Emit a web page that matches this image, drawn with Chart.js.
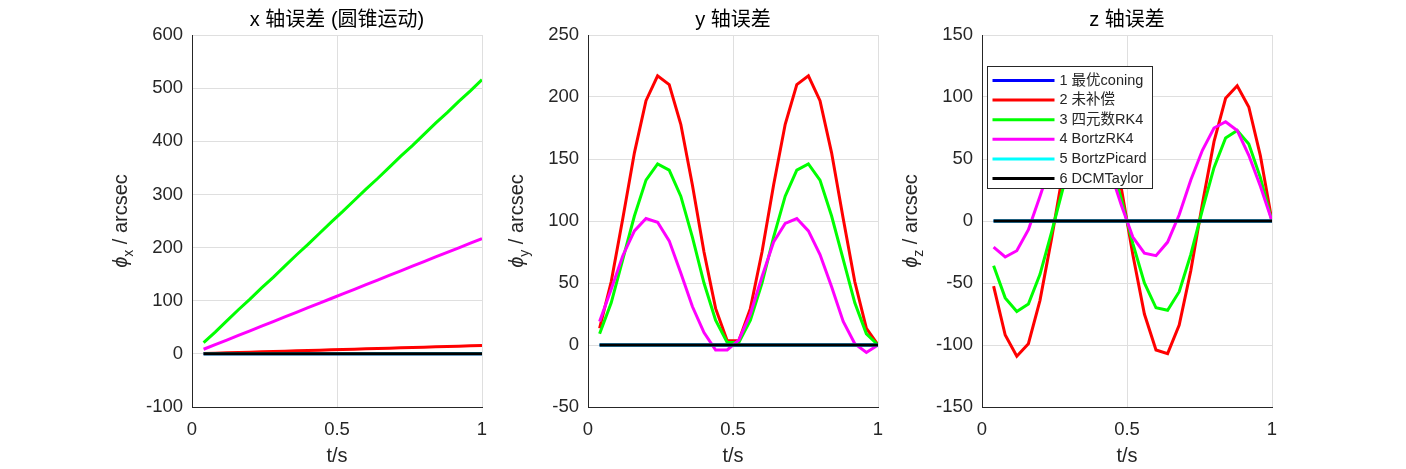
<!DOCTYPE html>
<html>
<head>
<meta charset="utf-8">
<script src="https://cdn.jsdelivr.net/npm/chart.js@4.4.1/dist/chart.umd.min.js"></script>
<style>
  html, body { margin: 0; padding: 0; background: #fff; }
  #wrap { position: relative; width: 1406px; height: 469px; overflow: hidden; }
  canvas { position: absolute; top: 0; }
</style>
</head>
<body>
<div id="wrap">
  <canvas id="cx" width="420" height="469" style="left:92px"></canvas>
  <canvas id="cy" width="420" height="469" style="left:488px"></canvas>
  <canvas id="cz" width="420" height="469" style="left:882px"></canvas>
</div>
<script>
// time samples (s)
const tVals = [0.04, 0.08, 0.12, 0.16, 0.20, 0.24, 0.28, 0.32, 0.36, 0.40, 0.44, 0.48, 0.52,
               0.56, 0.60, 0.64, 0.68, 0.72, 0.76, 0.80, 0.84, 0.88, 0.92, 0.96, 1.00];

const methodNames = ['1 最优coning', '2 未补偿', '3 四元数RK4', '4 BortzRK4', '5 BortzPicard', '6 DCMTaylor'];
const lineColors = ['#0000ff', '#ff0000', '#00ff00', '#ff00ff', '#00ffff', '#000000'];

// optimal coning, BortzPicard and DCMTaylor stay on zero in every axis
const zeroErr = [0, 0, 0, 0, 0, 0, 0, 0, 0, 0, 0, 0, 0, 0, 0, 0, 0, 0, 0, 0, 0, 0, 0, 0, 0];

// x axis (arcsec)
const xUncomp = [0.6, 1.3, 1.9, 2.5, 3.1, 3.8, 4.4, 5.0, 5.7, 6.3, 6.9, 7.5, 8.2,
                 8.8, 9.4, 10.0, 10.7, 11.3, 11.9, 12.6, 13.2, 13.8, 14.4, 15.1, 15.7];
const xQuatRK4 = [21, 41, 62, 83, 103, 124, 144, 165, 186, 206, 227, 248, 268,
                  289, 310, 330, 351, 372, 392, 413, 434, 454, 475, 495, 516];
const xBortzRK4 = [8.7, 17.4, 26.0, 34.7, 43.4, 52.1, 60.8, 69.4, 78.1, 86.8, 95.5, 104.2, 112.8,
                   121.5, 130.2, 138.9, 147.6, 156.2, 164.9, 173.6, 182.3, 191.0, 199.6, 208.3, 217];

// y axis (arcsec)
const yUncomp = [13.5, 51, 102, 155, 197, 217, 210, 178, 129, 75, 29.5, 3.4, 3.4,
                 29.5, 75, 129, 178, 210, 217, 197, 155, 102, 51, 13.5, 0];
const yQuatRK4 = [9, 34, 69, 104, 133, 146, 141, 120, 87, 50, 20, 2, 2,
                  20, 50, 87, 120, 141, 146, 133, 104, 69, 34, 9, 0];
const yBortzRK4 = [19, 45, 72, 92, 102, 99, 84, 58, 31, 10, -4, -4, 4,
                   25, 55, 83, 98, 102, 92, 73, 47, 19, 1, -6, 0];

// z axis (arcsec)
const zUncomp = [-52.5, -92, -109, -99, -64, -14, 40, 84, 107, 104, 75, 27, -27,
                 -75, -104, -107, -84, -40, 14, 64, 99, 109, 92, 52.5, 0];
const zQuatRK4 = [-36, -62, -73, -67, -43, -9, 27, 57, 72, 70, 50, 18, -18,
                  -50, -70, -72, -57, -27, 9, 43, 67, 73, 62, 35, 0];
const zBortzRK4 = [-21, -29, -24, -7, 20, 48, 68, 79, 78, 65, 42, 13, -13,
                   -26, -28, -17, 5, 33, 57, 75, 80, 73, 53, 28, 0];

const xTicks = [0, 0.5, 1];

const font = '"Liberation Sans", "Noto Sans CJK SC", sans-serif';
const ink = '#262626';
const gridColor = '#dfdfdf';

function titlePlugin(text) {
    return {
        id: 'panelTitle',
        afterDraw(chart) {
            const { ctx, chartArea } = chart;
            ctx.save();
            ctx.font = '20px ' + font;
            ctx.fillStyle = '#000';
            ctx.textAlign = 'center';
            ctx.textBaseline = 'middle';
            ctx.fillText(text, (chartArea.left + chartArea.right) / 2, 20);
            ctx.restore();
        }
    };
}

function yLabelPlugin(sub) {
    return {
        id: 'yLabel',
        afterDraw(chart) {
            const { ctx, chartArea } = chart;
            ctx.save();
            ctx.translate(chartArea.left - 65, (chartArea.top + chartArea.bottom) / 2);
            ctx.rotate(-Math.PI / 2);
            ctx.fillStyle = ink;
            ctx.textBaseline = 'alphabetic';
            ctx.textAlign = 'left';
            ctx.font = 'italic 20px ' + font;
            const w1 = ctx.measureText('ϕ').width;
            ctx.font = '14px ' + font;
            const w2 = ctx.measureText(sub).width;
            ctx.font = '20px ' + font;
            const w3 = ctx.measureText(' / arcsec').width;
            let x = -(w1 + w2 + w3) / 2;
            ctx.font = 'italic 20px ' + font;
            ctx.fillText('ϕ', x, 0);
            x += w1;
            ctx.font = '14px ' + font;
            ctx.fillText(sub, x, 6);
            x += w2;
            ctx.font = '20px ' + font;
            ctx.fillText(' / arcsec', x, 0);
            ctx.restore();
        }
    };
}

const boxLegend = {
    id: 'boxLegend',
    afterDraw(chart) {
        const { ctx, chartArea } = chart;
        const bx = Math.round(chartArea.left + 5) + 0.5;
        const by = Math.round(chartArea.top + 31) + 0.5;
        ctx.save();
        ctx.fillStyle = '#fff';
        ctx.fillRect(bx, by, 165, 122);
        ctx.strokeStyle = ink;
        ctx.lineWidth = 1;
        ctx.strokeRect(bx, by, 165, 122);
        ctx.font = '14.5px ' + font;
        ctx.textBaseline = 'middle';
        chart.data.datasets.forEach((ds, i) => {
            const yy = by + 14 + i * 19.6;
            ctx.strokeStyle = ds.borderColor;
            ctx.lineWidth = 3;
            ctx.beginPath();
            ctx.moveTo(bx + 5, yy);
            ctx.lineTo(bx + 67, yy);
            ctx.stroke();
            ctx.fillStyle = ink;
            ctx.fillText(ds.label, bx + 72, yy);
        });
        ctx.restore();
    }
};

function makeChart(id, title, sub, series, yMin, yMax, yStep, withLegend) {
    const datasets = series.map((vals, i) => ({
        label: methodNames[i],
        data: tVals.map((t, j) => ({ x: t, y: vals[j] })),
        borderColor: lineColors[i],
        backgroundColor: lineColors[i],
        borderWidth: 3,
        pointRadius: 0,
        tension: 0,
        order: series.length - 1 - i
    }));
    const plugins = [titlePlugin(title), yLabelPlugin(sub)];
    if (withLegend) plugins.push(boxLegend);

    return new Chart(document.getElementById(id), {
        type: 'line',
        data: { datasets: datasets },
        options: {
            responsive: false,
            animation: false,
            layout: { padding: { top: 35, right: 30, bottom: 0, left: 0 } },
            plugins: { legend: { display: false }, tooltip: { enabled: false } },
            scales: {
                x: {
                    type: 'linear',
                    min: xTicks[0],
                    max: xTicks[xTicks.length - 1],
                    afterBuildTicks: s => { s.ticks = xTicks.map(v => ({ value: v })); },
                    ticks: {
                        color: ink, font: { family: font, size: 18.5 }, padding: 12, maxRotation: 0,
                        callback: v => String(v)
                    },
                    grid: { color: gridColor, drawTicks: false },
                    border: { color: ink, width: 1 },
                    title: {
                        display: true, text: 't/s', color: ink,
                        font: { family: font, size: 20, lineHeight: 1.2 },
                        padding: { top: 0, bottom: 0.5 }
                    },
                    afterFit: s => { s.height = 62; }
                },
                y: {
                    min: yMin,
                    max: yMax,
                    ticks: { stepSize: yStep, color: ink, font: { family: font, size: 18.5 }, padding: 9 },
                    grid: { color: gridColor, drawTicks: false },
                    border: { color: ink, width: 1 },
                    afterFit: s => { s.width = 100; }
                }
            }
        },
        plugins: plugins
    });
}

makeChart('cx', 'x 轴误差 (圆锥运动)', 'x',
    [zeroErr, xUncomp, xQuatRK4, xBortzRK4, zeroErr, zeroErr], -100, 600, 100, false);
makeChart('cy', 'y 轴误差', 'y',
    [zeroErr, yUncomp, yQuatRK4, yBortzRK4, zeroErr, zeroErr], -50, 250, 50, false);
makeChart('cz', 'z 轴误差', 'z',
    [zeroErr, zUncomp, zQuatRK4, zBortzRK4, zeroErr, zeroErr], -150, 150, 50, true);
</script>
</body>
</html>
